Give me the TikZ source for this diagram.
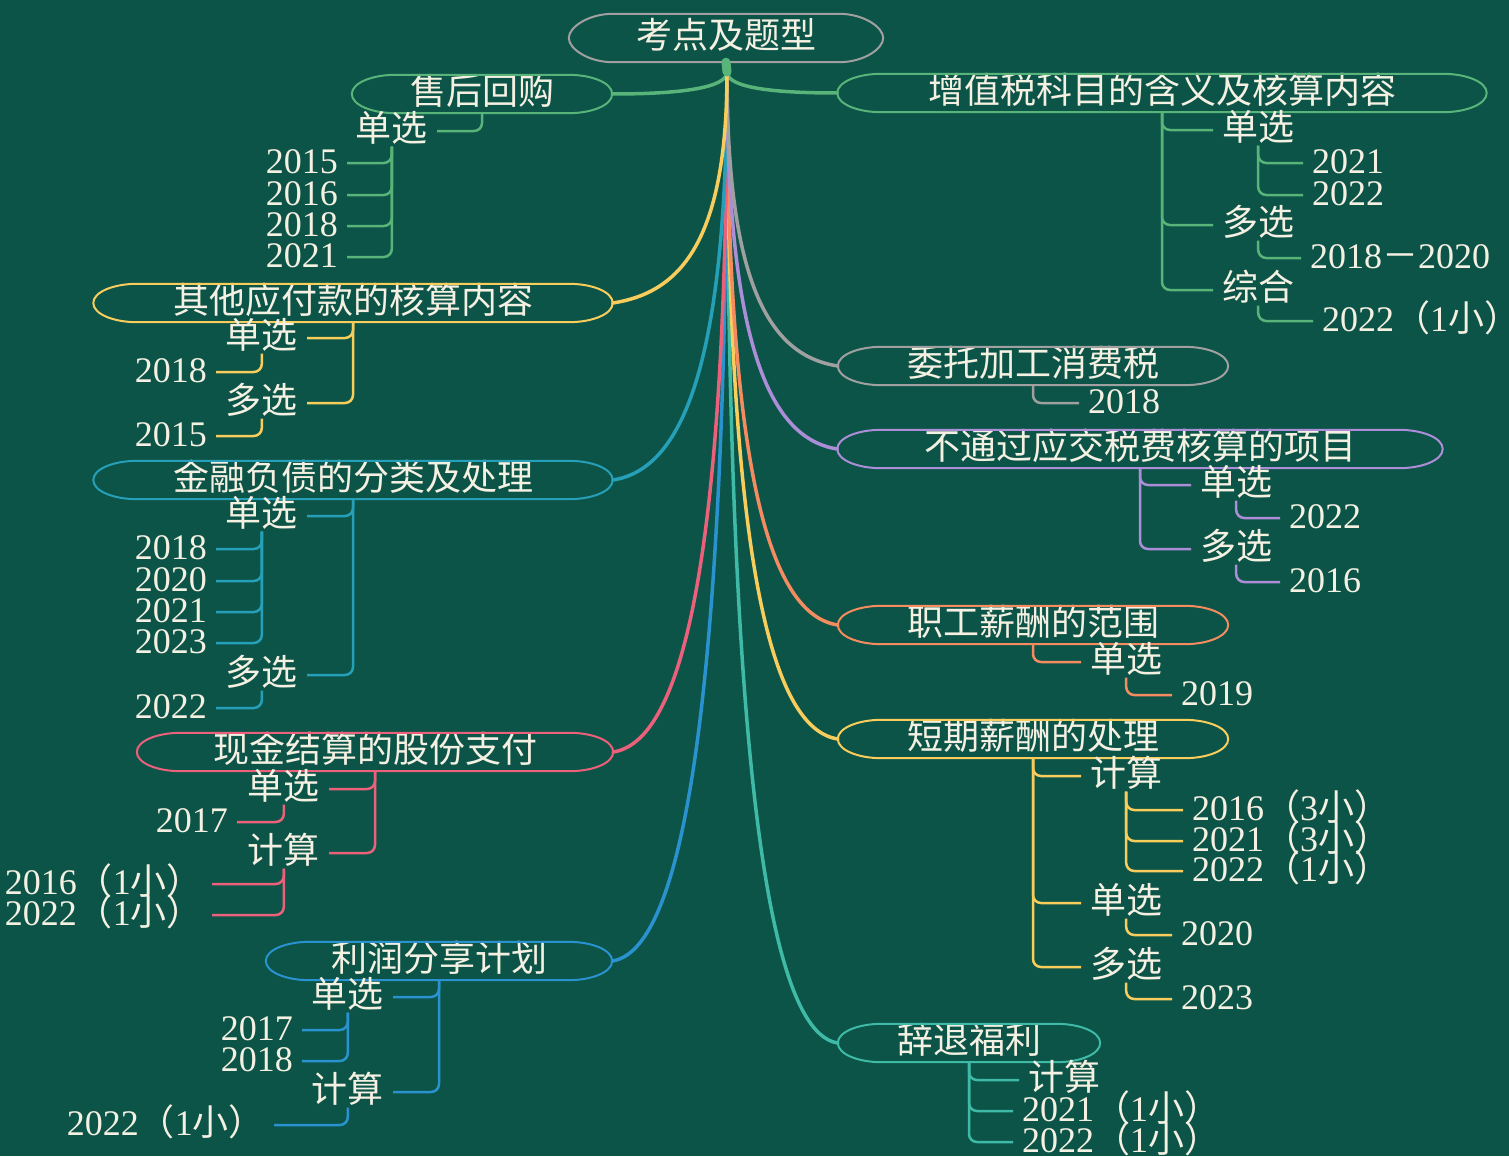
\documentclass[tikz,border=0pt]{standalone}
\usepackage{fontspec}
\setmainfont{Liberation Serif}
\newfontfamily\cjk{Noto Sans CJK SC}
\usetikzlibrary{calc}

\definecolor{bgc}{RGB}{12,84,72}
\definecolor{txtc}{RGB}{244,240,226}
\definecolor{cgreen}{RGB}{88,180,120}
\definecolor{cyellow}{RGB}{248,205,92}
\definecolor{cteal}{RGB}{38,160,184}
\definecolor{cpink}{RGB}{235,96,122}
\definecolor{cblue}{RGB}{42,146,206}
\definecolor{cgray}{RGB}{160,160,160}
\definecolor{cpurple}{RGB}{172,142,216}
\definecolor{corange}{RGB}{244,140,96}
\definecolor{cmint}{RGB}{62,186,166}

\tikzset{
  txt/.style={text=txtc, font=\fontsize{36}{38}\selectfont, text height=25pt, text depth=4pt},
  topic/.style={txt, font=\fontsize{36}{38}\selectfont\cjk, minimum height=38pt, inner sep=0pt},
  leaf/.style={txt, inner xsep=9pt, inner ysep=1pt},
  zh/.style={leaf, font=\fontsize{36}{38}\selectfont\cjk},
  branch/.style={line width=3.5pt, line cap=round},
  twig/.style={line width=2.5pt, rounded corners=8pt},
}

% outline of a topic, ends drawn as half ellipses
\newcommand{\topicoval}[2]{%
  \draw[line width=2pt,#2] (#1.west) .. controls +(0,-11) and +(-24,0) .. ($(#1.north west)+(44,0)$)
    -- ($(#1.north east)+(-44,0)$) .. controls +(24,0) and +(0,-11) .. (#1.east)
    .. controls +(0,11) and +(24,0) .. ($(#1.south east)+(-44,0)$)
    -- ($(#1.south west)+(44,0)$) .. controls +(-24,0) and +(0,11) .. (#1.west) -- cycle;}
\newcommand{\xiao}[1]{{\cjk （}#1{\cjk 小）}}

\begin{document}
\begin{tikzpicture}[x=1pt,y=-1pt]
\useasboundingbox (0,0) rectangle (1509,1156);
\fill[bgc] (0,0) rectangle (1509,1156);

%---------------------------------------------------
\node[topic, minimum width=314pt, minimum height=48pt] (root) at (726,38) {考点及题型};
\topicoval{root}{cgray}
\coordinate (hub) at (727,72);

%--- left topics ------------------------------------
\node[topic, minimum width=260pt] (sh) at (482,94)  {售后回购};
\node[topic, minimum width=519pt] (qt) at (353,303) {其他应付款的核算内容};
\node[topic, minimum width=519pt] (jr) at (353,480) {金融负债的分类及处理};
\node[topic, minimum width=476pt] (xj) at (375,752) {现金结算的股份支付};
\node[topic, minimum width=346pt] (lr) at (439,961) {利润分享计划};

%--- right topics -----------------------------------
\node[topic, minimum width=649pt] (zz) at (1162,93)  {增值税科目的含义及核算内容};
\node[topic, minimum width=390pt] (wt) at (1033,366) {委托加工消费税};
\node[topic, minimum width=605pt] (bt) at (1140,449) {不通过应交税费核算的项目};
\node[topic, minimum width=390pt] (zg) at (1033,625) {职工薪酬的范围};
\node[topic, minimum width=390pt] (dq) at (1033,739) {短期薪酬的处理};
\node[topic, minimum width=262pt] (ct) at (969,1043) {辞退福利};

%--- main branches -----------------------------------
\draw[branch,cgreen]  (hub) .. controls (727,88)  and (680,94)   .. (sh.east);
\draw[branch,cgreen]  (hub) .. controls (727,88)  and (775,93)   .. (zz.west);
\draw[branch,cmint]   (hub) .. controls (727,800) and (773,1033) .. (ct.west);
\draw[branch,cblue]   (hub) .. controls (727,738) and (678,951)  .. (lr.east);
\draw[branch,cyellow] (hub) .. controls (727,572) and (773,729)  .. (dq.west);
\draw[branch,corange] (hub) .. controls (727,486) and (773,615)  .. (zg.west);
\draw[branch,cpink]   (hub) .. controls (727,582) and (678,742)  .. (xj.east);
\draw[branch,cteal]   (hub) .. controls (727,378) and (678,470)  .. (jr.east);
\draw[branch,cpurple] (hub) .. controls (727,354) and (773,439)  .. (bt.west);
\draw[branch,cgray]   (hub) .. controls (727,292) and (773,356)  .. (wt.west);
\draw[branch,cyellow] (hub) .. controls (727,245) and (678,293)  .. (qt.east);
\draw[cgreen, line width=9pt, line cap=round] (root.south) -- (hub);

\foreach \t/\c in {sh/cgreen,qt/cyellow,jr/cteal,xj/cpink,lr/cblue,zz/cgreen,wt/cgray,bt/cpurple,zg/corange,dq/cyellow,ct/cmint}
  \topicoval{\t}{\c};

%--- 售后回购 ----------------------------------------
\node[zh, anchor=east]   (sh1)  at (437,131) {单选};
\node[leaf, anchor=east] (sh1a) at (347,163) {2015};
\node[leaf, anchor=east] (sh1b) at (347,195) {2016};
\node[leaf, anchor=east] (sh1c) at (347,226) {2018};
\node[leaf, anchor=east] (sh1d) at (347,257) {2021};
\draw[twig,cgreen] (sh.south) |- (sh1.east);
\foreach \k in {a,b,c,d} \draw[twig,cgreen] (sh1.south) |- (sh1\k.east);

%--- 其他应付款的核算内容 -----------------------------
\node[zh, anchor=east]   (qt1)  at (307,338) {单选};
\node[leaf, anchor=east] (qt1a) at (216,372) {2018};
\node[zh, anchor=east]   (qt2)  at (307,403) {多选};
\node[leaf, anchor=east] (qt2a) at (216,436) {2015};
\draw[twig,cyellow] (qt.south) |- (qt1.east);
\draw[twig,cyellow] (qt.south) |- (qt2.east);
\draw[twig,cyellow] (qt1.south) |- (qt1a.east);
\draw[twig,cyellow] (qt2.south) |- (qt2a.east);

%--- 金融负债的分类及处理 -----------------------------
\node[zh, anchor=east]   (jr1)  at (307,516) {单选};
\node[leaf, anchor=east] (jr1a) at (216,549) {2018};
\node[leaf, anchor=east] (jr1b) at (216,581) {2020};
\node[leaf, anchor=east] (jr1c) at (216,612) {2021};
\node[leaf, anchor=east] (jr1d) at (216,643) {2023};
\node[zh, anchor=east]   (jr2)  at (307,675) {多选};
\node[leaf, anchor=east] (jr2a) at (216,708) {2022};
\draw[twig,cteal] (jr.south) |- (jr1.east);
\draw[twig,cteal] (jr.south) |- (jr2.east);
\foreach \k in {a,b,c,d} \draw[twig,cteal] (jr1.south) |- (jr1\k.east);
\draw[twig,cteal] (jr2.south) |- (jr2a.east);

%--- 现金结算的股份支付 -------------------------------
\node[zh, anchor=east]   (xj1)  at (329,789) {单选};
\node[leaf, anchor=east] (xj1a) at (237,822) {2017};
\node[zh, anchor=east]   (xj2)  at (329,853) {计算};
\node[leaf, anchor=east] (xj2a) at (212,884) {2016\xiao{1}};
\node[leaf, anchor=east] (xj2b) at (212,915) {2022\xiao{1}};
\draw[twig,cpink] (xj.south) |- (xj1.east);
\draw[twig,cpink] (xj.south) |- (xj2.east);
\draw[twig,cpink] (xj1.south) |- (xj1a.east);
\foreach \k in {a,b} \draw[twig,cpink] (xj2.south) |- (xj2\k.east);

%--- 利润分享计划 -------------------------------------
\node[zh, anchor=east]   (lr1)  at (393,997)  {单选};
\node[leaf, anchor=east] (lr1a) at (302,1030) {2017};
\node[leaf, anchor=east] (lr1b) at (302,1061) {2018};
\node[zh, anchor=east]   (lr2)  at (393,1092) {计算};
\node[leaf, anchor=east] (lr2a) at (274,1125) {2022\xiao{1}};
\draw[twig,cblue] (lr.south) |- (lr1.east);
\draw[twig,cblue] (lr.south) |- (lr2.east);
\foreach \k in {a,b} \draw[twig,cblue] (lr1.south) |- (lr1\k.east);
\draw[twig,cblue] (lr2.south) |- (lr2a.east);

%--- 增值税科目的含义及核算内容 -----------------------
\node[zh, anchor=west]   (zz1)  at (1213,130) {单选};
\node[leaf, anchor=west] (zz1a) at (1303,163) {2021};
\node[leaf, anchor=west] (zz1b) at (1303,195) {2022};
\node[zh, anchor=west]   (zz2)  at (1213,225) {多选};
\node[leaf, anchor=west] (zz2a) at (1301,258) {2018{\cjk －}2020};
\node[zh, anchor=west]   (zz3)  at (1213,290) {综合};
\node[leaf, anchor=west] (zz3a) at (1313,321) {2022\xiao{1}};
\foreach \k in {1,2,3} \draw[twig,cgreen] (zz.south) |- (zz\k.west);
\foreach \k in {a,b} \draw[twig,cgreen] (zz1.south) |- (zz1\k.west);
\draw[twig,cgreen] (zz2.south) |- (zz2a.west);
\draw[twig,cgreen] (zz3.south) |- (zz3a.west);

%--- 委托加工消费税 -----------------------------------
\node[leaf, anchor=west] (wt1) at (1079,403) {2018};
\draw[twig,cgray] (wt.south) |- (wt1.west);

%--- 不通过应交税费核算的项目 -------------------------
\node[zh, anchor=west]   (bt1)  at (1191,485) {单选};
\node[leaf, anchor=west] (bt1a) at (1280,518) {2022};
\node[zh, anchor=west]   (bt2)  at (1191,549) {多选};
\node[leaf, anchor=west] (bt2a) at (1280,582) {2016};
\draw[twig,cpurple] (bt.south) |- (bt1.west);
\draw[twig,cpurple] (bt.south) |- (bt2.west);
\draw[twig,cpurple] (bt1.south) |- (bt1a.west);
\draw[twig,cpurple] (bt2.south) |- (bt2a.west);

%--- 职工薪酬的范围 -----------------------------------
\node[zh, anchor=west]   (zg1)  at (1081,662) {单选};
\node[leaf, anchor=west] (zg1a) at (1172,695) {2019};
\draw[twig,corange] (zg.south) |- (zg1.west);
\draw[twig,corange] (zg1.south) |- (zg1a.west);

%--- 短期薪酬的处理 -----------------------------------
\node[zh, anchor=west]   (dq1)  at (1081,776) {计算};
\node[leaf, anchor=west] (dq1a) at (1183,810) {2016\xiao{3}};
\node[leaf, anchor=west] (dq1b) at (1183,841) {2021\xiao{3}};
\node[leaf, anchor=west] (dq1c) at (1183,871) {2022\xiao{1}};
\node[zh, anchor=west]   (dq2)  at (1081,903) {单选};
\node[leaf, anchor=west] (dq2a) at (1172,935) {2020};
\node[zh, anchor=west]   (dq3)  at (1081,967) {多选};
\node[leaf, anchor=west] (dq3a) at (1172,999) {2023};
\foreach \k in {1,2,3} \draw[twig,cyellow] (dq.south) |- (dq\k.west);
\foreach \k in {a,b,c} \draw[twig,cyellow] (dq1.south) |- (dq1\k.west);
\draw[twig,cyellow] (dq2.south) |- (dq2a.west);
\draw[twig,cyellow] (dq3.south) |- (dq3a.west);

%--- 辞退福利 -----------------------------------------
\node[zh, anchor=west]   (ct1) at (1019,1080) {计算};
\node[leaf, anchor=west] (ct2) at (1013,1111) {2021\xiao{1}};
\node[leaf, anchor=west] (ct3) at (1013,1142) {2022\xiao{1}};
\foreach \k in {1,2,3} \draw[twig,cmint] (ct.south) |- (ct\k.west);
\end{tikzpicture}
\end{document}
